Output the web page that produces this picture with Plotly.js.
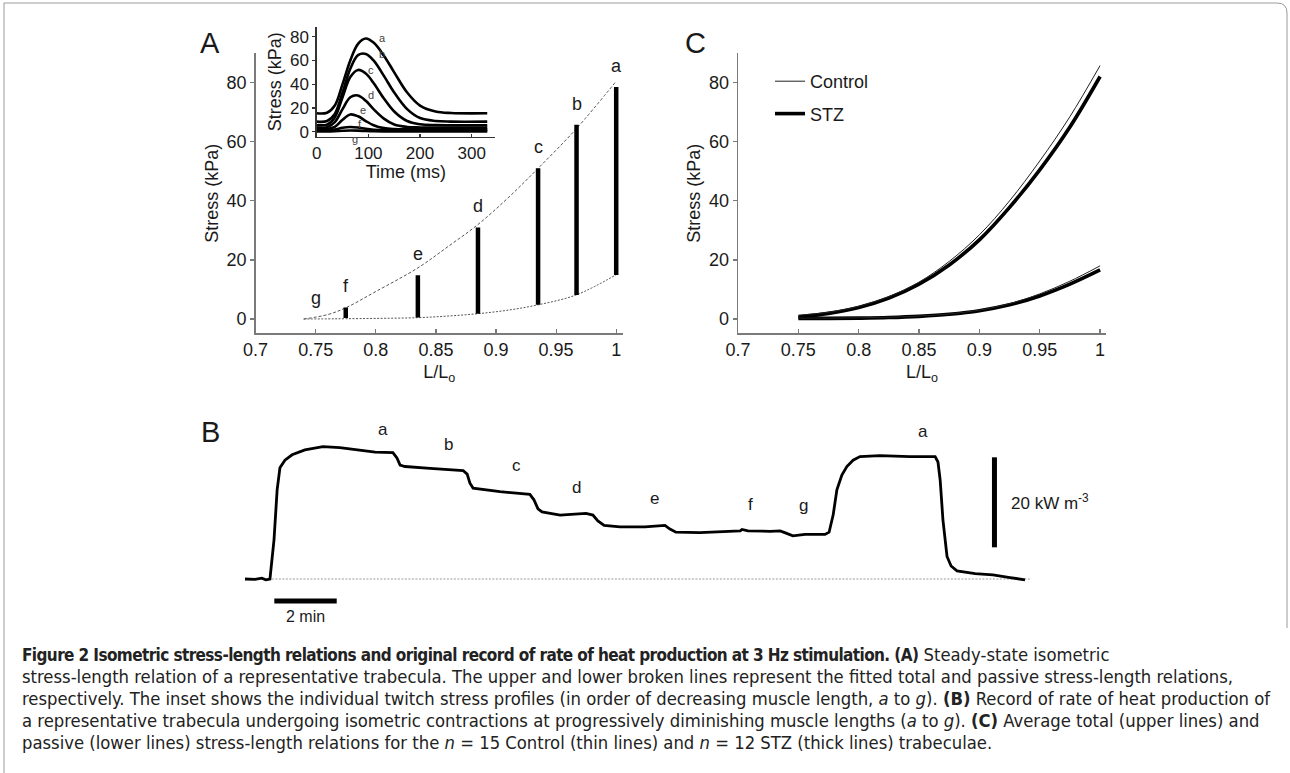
<!DOCTYPE html>
<html>
<head>
<meta charset="utf-8">
<script src="https://cdn.plot.ly/plotly-3.0.1.min.js"></script>
<style>
  html, body { margin: 0; padding: 0; background: #fff; }
  #chart { width: 1290px; height: 773px; }
</style>
</head>
<body>
<div id="chart"></div>
<script>
// ---------------- DATA ----------------
// Panel A: steady-state isometric stress-length relation (bars = twitch range, passive to total)
const barLabels = ['a', 'b', 'c', 'd', 'e', 'f', 'g'];
const barLength = [1.0, 0.967, 0.935, 0.885, 0.835, 0.775, 0.75];
const barPassive = [14.9, 8.1, 4.8, 1.8, 0.5, 0.3, 0];
const barTotal = [78.5, 65.8, 51.0, 31.0, 14.8, 3.9, 0];

// Panel A: fitted total & passive relations (broken lines)
const fitLength = [0.74, 0.76, 0.775, 0.8, 0.835, 0.86, 0.885, 0.91, 0.935, 0.967, 1.0];
const fitTotal = [0, 1.5, 3.8, 9.3, 17.3, 24.5, 32.0, 41.0, 51.0, 64.5, 80.5];
const fitPassive = [0, 0.05, 0.1, 0.2, 0.45, 1.0, 1.8, 3.0, 4.8, 8.2, 15.0];

// Panel A inset: twitch stress profiles (time in ms, stress in kPa)
const twitchTime = [0, 20, 35, 50, 65, 80, 95, 110, 130, 150, 175, 200, 230, 260, 330];
const twitchA = [15.5, 16, 22, 40, 60, 74, 78.5, 75, 64, 50, 33, 22, 17, 15.7, 15.5];
const twitchB = [8.5, 9, 15, 33, 53, 64.5, 65.5, 60, 47, 33, 19, 11.5, 9, 8.5, 8.5];
const twitchC = [5.5, 6, 12, 29, 46, 52, 49, 41, 28, 17, 9, 6.3, 5.6, 5.5, 5.5];
const twitchD = [3.5, 3.8, 8, 19, 29, 30.5, 26, 19, 11, 6, 4, 3.6, 3.5, 3.5, 3.5];
const twitchE = [2, 2.2, 4, 10, 14.5, 13, 9, 5.5, 3, 2.2, 2, 2, 2, 2, 2];
const twitchF = [1, 1.1, 1.8, 3.4, 4, 3.5, 2.4, 1.6, 1.1, 1, 1, 1, 1, 1, 1];
const twitchG = [0.3, 0.3, 0.5, 0.8, 1, 0.9, 0.6, 0.4, 0.3, 0.3, 0.3, 0.3, 0.3, 0.3, 0.3];
const twitchLabels = ['a', 'b', 'c', 'd', 'e', 'f', 'g'];

// Panel C: average total / passive stress-length relations
const cLength = [0.75, 0.775, 0.8, 0.825, 0.85, 0.875, 0.9, 0.925, 0.95, 0.975, 1.0];
const controlTotal = [1.3, 2.3, 4.3, 7.6, 12.5, 19.5, 28.5, 40.0, 53.5, 68.5, 85.8];
const stzTotal = [0.7, 1.9, 3.9, 7.1, 11.8, 18.3, 26.8, 37.8, 50.5, 65.0, 82.1];
const controlPassive = [0.3, 0.3, 0.4, 0.6, 1.0, 1.7, 3.0, 5.2, 8.5, 12.8, 18.0];
const stzPassive = [0.2, 0.2, 0.3, 0.5, 0.9, 1.6, 2.8, 4.8, 7.8, 11.8, 16.6];

// Panel B: rate of heat production record (time in min, kW m^-3 above baseline)
const heatTime = [0, 0.32, 0.54, 0.67, 0.8, 0.93, 1.03, 1.12, 1.28, 1.51, 1.92, 2.5, 3.04, 3.69, 4.17, 4.74,
  4.87, 4.97, 5.13, 5.93, 6.99, 7.12, 7.21, 7.31, 7.53, 8.17, 9.13, 9.26, 9.39, 9.52, 10.1, 10.93,
  11.15, 11.31, 11.51, 12.02, 12.82, 13.46, 13.62, 13.81, 14.58, 15.87, 15.93, 16.12, 16.83, 17.15,
  17.34, 17.56, 17.95, 18.59, 18.72, 18.85, 18.97, 19.13, 19.29, 19.49, 19.71, 20.35, 21.31, 22.12,
  22.21, 22.28, 22.37, 22.5, 22.63, 22.82, 23.4, 23.97, 24.52, 25.0];
const heatRate = [0, -0.1, 0.2, -0.2, 0, 8.7, 19.8, 24.7, 26.4, 27.6, 28.7, 29.4, 29.2, 28.7, 28.2, 28.1,
  26.9, 25.3, 25.0, 24.6, 24.1, 23.3, 21.3, 20.2, 20.0, 19.4, 18.8, 17.6, 15.6, 14.9, 14.2, 14.6,
  14.2, 12.9, 11.9, 11.6, 11.6, 11.9, 11.1, 10.4, 10.3, 10.7, 11.0, 10.7, 10.6, 10.7,
  10.2, 9.6, 9.9, 9.9, 10.4, 14.2, 19.8, 23.1, 25.0, 26.4, 27.2, 27.4, 27.2, 27.2,
  26.0, 22.0, 13.1, 5.0, 2.9, 1.8, 1.2, 0.9, 0.33, -0.2];
const heatLabels = ['a', 'b', 'c', 'd', 'e', 'f', 'g', 'a'];
const scaleMinutes = 2;     // horizontal scale bar (min)
const scaleHeat = 20;       // vertical scale bar (kW m^-3)

// ---------------- LAYOUT HELPERS ----------------
const W = 1290, H = 773;
const PX = p => p / W;
const PY = p => 1 - p / H;
const FONT = 'Liberation Sans, Arial, Helvetica, sans-serif';
const INK = '#1a1a1a';
const AXC = '#7a7a7a';

function hasFont(name) {
  const c = document.createElement('canvas').getContext('2d');
  const s = 'abcdefghijklmnopqrstuvwxyzABCDEFGHIJ0123456789';
  c.font = '40px monospace';
  const w1 = c.measureText(s).width;
  c.font = '40px "' + name + '", monospace';
  const w2 = c.measureText(s).width;
  return Math.abs(w1 - w2) > 0.5;
}
let capFont = FONT, capSize = 16.5, boldStyle = 'font-size:14.5px';
if (hasFont('Liberation Sans Narrow')) { capFont = 'Liberation Sans Narrow'; capSize = 20; boldStyle = 'font-size:19px'; }
else if (hasFont('DejaVu Sans Condensed')) { capFont = 'DejaVu Sans Condensed'; capSize = 18.3; boldStyle = 'font-size:17px;letter-spacing:-0.6px'; }

const traces = [];

// Panel A fitted curves
traces.push({x: fitLength, y: fitTotal, xaxis: 'x', yaxis: 'y', mode: 'lines', showlegend: false,
  line: {color: '#555', width: 1, dash: '3px,2px', shape: 'spline'}, hoverinfo: 'skip'});
traces.push({x: fitLength, y: fitPassive, xaxis: 'x', yaxis: 'y', mode: 'lines', showlegend: false,
  line: {color: '#555', width: 1, dash: '2px,1.5px', shape: 'spline'}, hoverinfo: 'skip'});
// Panel A bars
const bx = [], by = [];
barLength.forEach((L, i) => {
  if (barTotal[i] > barPassive[i]) { bx.push(L, L, null); by.push(barPassive[i], barTotal[i], null); }
});
traces.push({x: bx, y: by, xaxis: 'x', yaxis: 'y', mode: 'lines', showlegend: false,
  line: {color: '#000', width: 4.5}, hoverinfo: 'skip'});

// Inset twitches
const twitches = [twitchA, twitchB, twitchC, twitchD, twitchE, twitchF, twitchG];
twitches.slice().reverse().forEach(s => {
  traces.push({x: twitchTime, y: s, xaxis: 'x2', yaxis: 'y2', mode: 'lines', showlegend: false,
    line: {color: '#000', width: 2.6, shape: 'spline', smoothing: 1}, hoverinfo: 'skip'});
});

// Panel C
traces.push({x: cLength, y: stzTotal, xaxis: 'x3', yaxis: 'y3', mode: 'lines', name: 'STZ',
  legendgroup: 'stz', legendrank: 2, line: {color: '#000', width: 3.6, shape: 'spline'}});
traces.push({x: cLength, y: stzPassive, xaxis: 'x3', yaxis: 'y3', mode: 'lines', name: 'STZ',
  legendgroup: 'stz', legendrank: 2, showlegend: false, line: {color: '#000', width: 3.6, shape: 'spline'}});
traces.push({x: cLength, y: controlTotal, xaxis: 'x3', yaxis: 'y3', mode: 'lines', name: 'Control',
  legendgroup: 'ctrl', legendrank: 1, line: {color: '#222', width: 1, shape: 'spline'}});
traces.push({x: cLength, y: controlPassive, xaxis: 'x3', yaxis: 'y3', mode: 'lines', name: 'Control',
  legendgroup: 'ctrl', legendrank: 1, showlegend: false, line: {color: '#222', width: 1, shape: 'spline'}});

// Panel B
const tEnd = 25.2, tStartBase = 0.75;
traces.push({x: [tStartBase, tEnd], y: [0, 0], xaxis: 'x4', yaxis: 'y4', mode: 'lines', showlegend: false,
  line: {color: '#999', width: 1, dash: '2px,1.5px'}, hoverinfo: 'skip'});
traces.push({x: heatTime, y: heatRate, xaxis: 'x4', yaxis: 'y4', mode: 'lines', showlegend: false,
  line: {color: '#000', width: 2.8}, hoverinfo: 'skip'});
// scale bars
const sbT0 = 0.94, sbQ = -4.9;
traces.push({x: [sbT0, sbT0 + scaleMinutes], y: [sbQ, sbQ], xaxis: 'x4', yaxis: 'y4', mode: 'lines',
  showlegend: false, line: {color: '#000', width: 5}, hoverinfo: 'skip'});
const vbT = 24.02, vbQ0 = 7.04;
traces.push({x: [vbT, vbT], y: [vbQ0, vbQ0 + scaleHeat], xaxis: 'x4', yaxis: 'y4', mode: 'lines',
  showlegend: false, line: {color: '#000', width: 5}, hoverinfo: 'skip'});

// ---------------- ANNOTATIONS ----------------
const ann = [];
// panel letters
[['A', 210, 43], ['C', 695, 43], ['B', 210, 432]].forEach(([t, x, y]) => {
  ann.push({text: t, xref: 'paper', yref: 'paper', x: PX(x), y: PY(y), showarrow: false,
    xanchor: 'center', yanchor: 'middle', font: {family: FONT, size: 29, color: INK}});
});
// A labels
barLabels.forEach((lab, i) => {
  ann.push({text: lab, xref: 'x', yref: 'y', x: barLength[i], y: barTotal[i], yshift: 21,
    showarrow: false, xanchor: 'center', yanchor: 'middle', font: {family: FONT, size: 18, color: INK}});
});
// inset labels near peaks
const insetShift = [[17, 0], [16, 0], [13, 0], [13, 0], [13, 4], [10, 3], [5, -8]];
twitches.forEach((s, i) => {
  let k = 0; s.forEach((v, j) => { if (v > s[k]) k = j; });
  ann.push({text: twitchLabels[i], xref: 'x2', yref: 'y2', x: twitchTime[k], y: s[k],
    xshift: insetShift[i][0], yshift: insetShift[i][1], showarrow: false,
    xanchor: 'center', yanchor: 'middle', font: {family: FONT, size: 11, color: '#444'}});
});
// B labels
const heatLabelT = [4.43, 6.52, 8.71, 10.63, 13.11, 16.21, 17.89, 21.74];
const heatLabelQ = [33.3, 29.8, 25.3, 20.4, 17.9, 16.6, 16.4, 32.7];
heatLabels.forEach((lab, i) => {
  ann.push({text: lab, xref: 'x4', yref: 'y4', x: heatLabelT[i], y: heatLabelQ[i], showarrow: false,
    xanchor: 'center', yanchor: 'middle', font: {family: FONT, size: 17, color: INK}});
});
ann.push({text: scaleMinutes + ' min', xref: 'x4', yref: 'y4', x: sbT0 + scaleMinutes / 2, y: -8.3,
  showarrow: false, xanchor: 'center', yanchor: 'middle', font: {family: FONT, size: 16, color: INK}});
ann.push({text: scaleHeat + ' kW m<sup>-3</sup>', xref: 'x4', yref: 'y4', x: 24.5, y: 17.2,
  showarrow: false, xanchor: 'left', yanchor: 'middle', font: {family: FONT, size: 17, color: INK}});

// caption
const capLines = [
  '<b><span style="' + boldStyle + '">Figure 2 Isometric stress-length relations and original record of rate of heat production at 3 Hz stimulation. (A)</span></b> Steady-state isometric',
  'stress-length relation of a representative trabecula. The upper and lower broken lines represent the fitted total and passive stress-length relations,',
  'respectively. The inset shows the individual twitch stress profiles (in order of decreasing muscle length, <i>a</i> to <i>g</i>). <b>(B)</b> Record of rate of heat production of',
  'a representative trabecula undergoing isometric contractions at progressively diminishing muscle lengths (<i>a</i> to <i>g</i>). <b>(C)</b> Average total (upper lines) and',
  'passive (lower lines) stress-length relations for the <i>n</i> = 15 Control (thin lines) and <i>n</i> = 12 STZ (thick lines) trabeculae.'
];
capLines.forEach((t, i) => {
  ann.push({text: t, xref: 'paper', yref: 'paper', x: PX(20), y: PY(654 + 22 * i), showarrow: false,
    xanchor: 'left', yanchor: 'middle', align: 'left', font: {family: capFont, size: capSize, color: '#222'}});
});

// ---------------- AXES ----------------
function axBase(extra) {
  return Object.assign({
    showgrid: false, zeroline: false, showline: true, linecolor: AXC, linewidth: 1.4,
    tickcolor: AXC, tickwidth: 1.2, tickfont: {family: FONT, size: 18, color: INK},
    automargin: false, fixedrange: true
  }, extra);
}
const lenTicks = [0.7, 0.75, 0.8, 0.85, 0.9, 0.95, 1];
const lenText = ['0.7', '0.75', '0.8', '0.85', '0.9', '0.95', '1'];
const stressTicks = [0, 20, 40, 60, 80];

const layout = {
  width: W, height: H, margin: {l: 0, r: 0, t: 0, b: 0}, paper_bgcolor: '#fff', plot_bgcolor: 'rgba(0,0,0,0)',
  font: {family: FONT, color: INK},
  showlegend: true,
  legend: {x: PX(770), y: PY(63), xanchor: 'left', yanchor: 'top', bgcolor: 'rgba(0,0,0,0)',
    font: {family: FONT, size: 18, color: INK}, tracegroupgap: 6, traceorder: 'grouped'},
  xaxis: axBase({domain: [PX(255.6), PX(622.7)], range: [0.7, 1.0054], anchor: 'y',
    tickvals: lenTicks, ticktext: lenText, ticks: 'inside', ticklen: 4,
    title: {text: 'L/L<sub>o</sub>', font: {family: FONT, size: 18, color: INK}, standoff: 6}}),
  yaxis: axBase({domain: [PY(333.3), PY(53)], range: [-4.84, 90.05], anchor: 'x',
    tickvals: stressTicks, ticks: 'outside', ticklen: 4,
    title: {text: 'Stress (kPa)', font: {family: FONT, size: 18, color: INK}, standoff: 3}}),
  xaxis2: axBase({domain: [PX(316.7), PX(495)], range: [0, 345], anchor: 'y2',
    tickvals: [0, 100, 200, 300], ticks: 'inside', ticklen: 3, linecolor: '#333', tickcolor: '#333',
    tickfont: {family: FONT, size: 17, color: INK},
    title: {text: 'Time (ms)', font: {family: FONT, size: 18, color: INK}, standoff: 4}}),
  yaxis2: axBase({domain: [PY(136.7), PY(26.7)], range: [-4.2, 88.4], anchor: 'x2',
    tickvals: stressTicks, ticks: 'outside', ticklen: 3, linecolor: '#333', tickcolor: '#333',
    tickfont: {family: FONT, size: 17, color: INK},
    title: {text: 'Stress (kPa)', font: {family: FONT, size: 18, color: INK}, standoff: 3}}),
  xaxis3: axBase({domain: [PX(738), PX(1106)], range: [0.7, 1.0049], anchor: 'y3',
    tickvals: lenTicks, ticktext: lenText, ticks: 'inside', ticklen: 4,
    title: {text: 'L/L<sub>o</sub>', font: {family: FONT, size: 18, color: INK}, standoff: 6}}),
  yaxis3: axBase({domain: [PY(333.3), PY(53)], range: [-4.84, 90.05], anchor: 'x3',
    tickvals: stressTicks, ticks: 'outside', ticklen: 4,
    title: {text: 'Stress (kPa)', font: {family: FONT, size: 18, color: INK}, standoff: 3}}),
  xaxis4: {domain: [PX(240), PX(1040)], range: [-0.16, 25.48], anchor: 'y4', visible: false, fixedrange: true},
  yaxis4: {domain: [PY(625), PY(420)], range: [-10.22, 35.33], anchor: 'x4', visible: false, fixedrange: true},
  annotations: ann,
  shapes: [{type: 'path', xref: 'paper', yref: 'paper',
    path: `M ${PX(4)},${PY(773)} L ${PX(4)},${PY(3)} L ${PX(1277)},${PY(3)} Q ${PX(1287)},${PY(3)} ${PX(1287)},${PY(13)} L ${PX(1287)},${PY(628)}`,
    line: {color: '#9a9a9a', width: 1}}]
};

Plotly.newPlot('chart', traces, layout, {staticPlot: true, displayModeBar: false});
</script>
</body>
</html>
